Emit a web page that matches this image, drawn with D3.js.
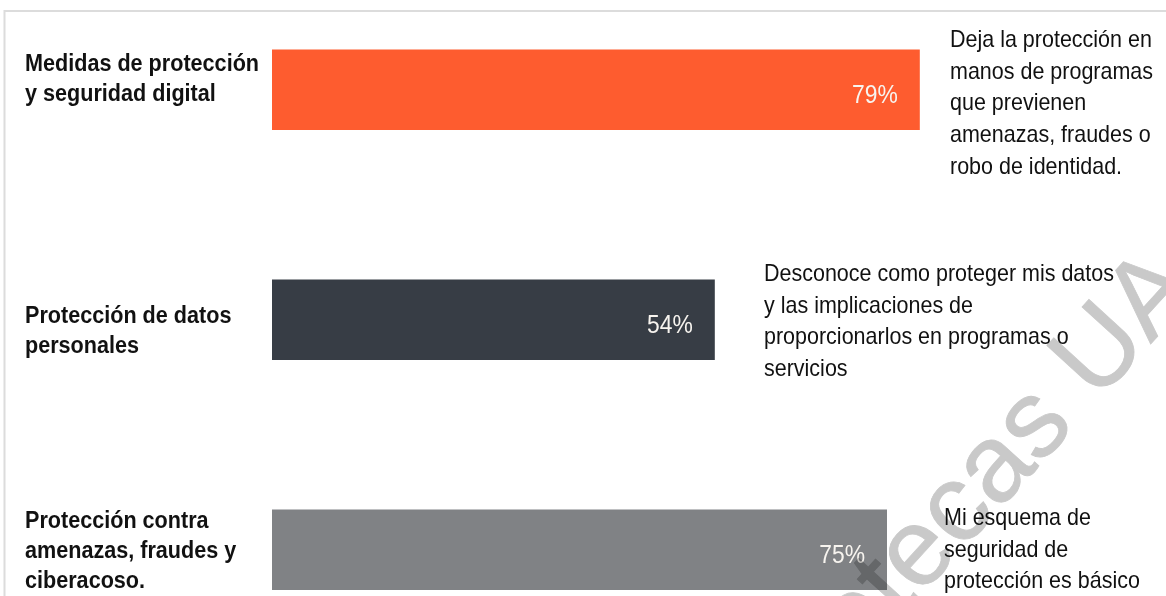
<!DOCTYPE html>
<html>
<head>
<meta charset="utf-8">
<script src="https://cdn.jsdelivr.net/npm/d3@7"></script>
<style>
  html, body { margin: 0; padding: 0; background: #fff; }
  svg { display: block; }
</style>
</head>
<body>
<svg id="chart" width="1166" height="596"></svg>
<script>
// Categories (one bar each), shown as multi-line labels on the left
const categories = [
  "Medidas de protección y seguridad digital",
  "Protección de datos personales",
  "Protección contra amenazas, fraudes y ciberacoso."
];
const categoryLines = [
  ["Medidas de protección", "y seguridad digital"],
  ["Protección de datos", "personales"],
  ["Protección contra", "amenazas, fraudes y", "ciberacoso."]
];
// Share of respondents, percent
const values = [79, 54, 75];
const valueLabels = ["79%", "54%", "75%"];
// Statement that accompanies each bar
const notes = [
  ["Deja la protección en", "manos de programas", "que previenen", "amenazas, fraudes o", "robo de identidad."],
  ["Desconoce como proteger mis datos", "y las implicaciones de", "proporcionarlos en programas o", "servicios"],
  ["Mi esquema de", "seguridad de", "protección es básico"]
];
const barColors = ["#FE5C2F", "#373D45", "#808285"];
const watermarkText = "Bibliotecas UA";

const svg = d3.select("#chart");
const FONT = "'Liberation Sans', Arial, Helvetica, sans-serif";

// Frame lines along the top and left edges
svg.append("path")
  .attr("d", "M4.5,596 V11 H1166")
  .attr("fill", "none")
  .attr("stroke", "#dcdcdc")
  .attr("stroke-width", 2);

const x = d3.scaleLinear().domain([0, 100]).range([272, 1092]);
const y = d3.scaleBand().domain(categories).range([49.5, 590])
  .paddingInner(0.65).paddingOuter(0);

// Bars
svg.append("g").selectAll("rect")
  .data(categories)
  .join("rect")
  .attr("x", x(0))
  .attr("y", d => y(d))
  .attr("width", (d, i) => x(values[i]) - x(0))
  .attr("height", y.bandwidth())
  .attr("fill", (d, i) => barColors[i]);

// Value labels inside bar ends
svg.append("g").selectAll("text")
  .data(categories)
  .join("text")
  .attr("transform", (d, i) =>
    `translate(${x(values[i]) - 22},${y(d) + y.bandwidth() / 2 + 13}) scale(0.88,1)`)
  .attr("text-anchor", "end")
  .attr("font-family", FONT)
  .attr("font-size", 26)
  .attr("fill", "#f7f4ef")
  .text((d, i) => valueLabels[i]);

// Category labels, bold, left column
const labelTop = [-18.5, 3, -22];   // first baseline relative to band centre
const cat = svg.append("g").selectAll("text")
  .data(categories)
  .join("text")
  .attr("transform", (d, i) =>
    `translate(25,${y(d) + y.bandwidth() / 2 + labelTop[i]}) scale(0.9,1)`)
  .attr("font-family", FONT)
  .attr("font-size", 24)
  .attr("font-weight", "bold")
  .attr("fill", "#111");
cat.selectAll("tspan")
  .data((d, i) => categoryLines[i])
  .join("tspan")
  .attr("x", 0)
  .attr("dy", (d, j) => j === 0 ? 0 : 30)
  .text(d => d);

// Notes to the right of each bar
const noteX = [950, 764, 944];
const noteTop = [-43, -39, -25];
const nt = svg.append("g").selectAll("text")
  .data(categories)
  .join("text")
  .attr("transform", (d, i) =>
    `translate(${noteX[i]},${y(d) + y.bandwidth() / 2 + noteTop[i]}) scale(0.935,1)`)
  .attr("font-family", FONT)
  .attr("font-size", 23)
  .attr("fill", "#111");
nt.selectAll("tspan")
  .data((d, i) => notes[i])
  .join("tspan")
  .attr("x", 0)
  .attr("dy", (d, j) => j === 0 ? 0 : 31.8)
  .text(d => d);

// Diagonal watermark, multiplied over the page
svg.append("text")
  .attr("transform", "translate(1200,290) rotate(-47.6)")
  .attr("text-anchor", "end")
  .attr("font-family", FONT)
  .attr("font-size", 110)
  .attr("fill", "#c9c9c9")
  .attr("stroke", "#c9c9c9")
  .attr("stroke-width", 0.8)
  .style("mix-blend-mode", "multiply")
  .text(watermarkText);
</script>
</body>
</html>
